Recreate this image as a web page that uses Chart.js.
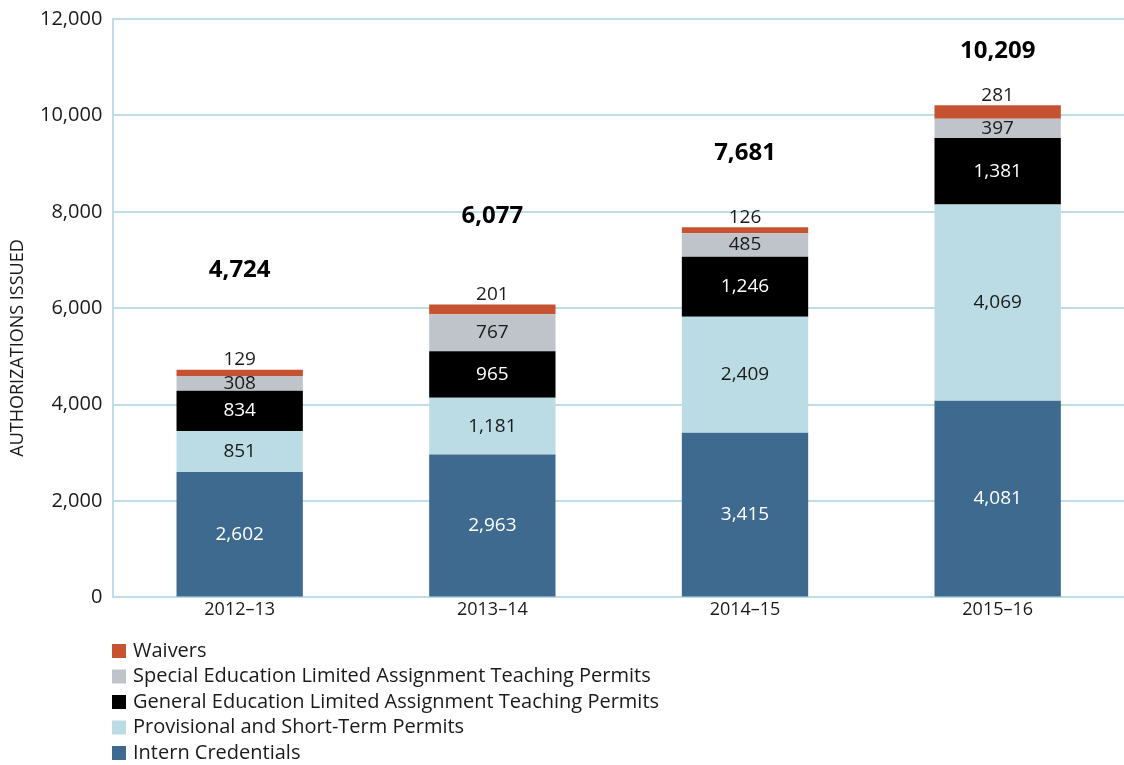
<!DOCTYPE html>
<html>
<head>
<meta charset="utf-8">
<script src="https://cdn.jsdelivr.net/npm/chart.js@4.4.1/dist/chart.umd.min.js"></script>
<style>
  html, body { margin: 0; padding: 0; background: #ffffff; overflow: hidden; }
  #wrap { position: relative; width: 1124px; height: 765px; }
</style>
</head>
<body>
<div id="wrap"><canvas id="c" width="1124" height="765"></canvas></div>
<script>
const categories = ['2012\u201313', '2013\u201314', '2014\u201315', '2015\u201316'];
const internCredentials = [2602, 2963, 3415, 4081];
const provisionalShortTerm = [851, 1181, 2409, 4069];
const generalEdLimited = [834, 965, 1246, 1381];
const specialEdLimited = [308, 767, 485, 397];
const waivers = [129, 201, 126, 281];
const totals = [4724, 6077, 7681, 10209];
const yTicks = [0, 2000, 4000, 6000, 8000, 10000, 12000];
const yAxisTitle = 'AUTHORIZATIONS ISSUED';

const FONT = "'Open Sans', 'Liberation Sans', Arial, sans-serif";
const GRID = '#BEDDE6';

const datasets = [
  { label: 'Intern Credentials', data: internCredentials, backgroundColor: '#3E6A90', labelColor: '#ffffff' },
  { label: 'Provisional and Short-Term Permits', data: provisionalShortTerm, backgroundColor: '#BBDCE4', labelColor: '#1a1a1a' },
  { label: 'General Education Limited Assignment Teaching Permits', data: generalEdLimited, backgroundColor: '#000000', labelColor: '#ffffff' },
  { label: 'Special Education Limited Assignment Teaching Permits', data: specialEdLimited, backgroundColor: '#BFC3CA', labelColor: '#1a1a1a' },
  { label: 'Waivers', data: waivers, backgroundColor: '#C55230', labelColor: '#1a1a1a', labelAbove: true }
];

const fmt = v => v.toLocaleString('en-US');

const labelPlugin = {
  id: 'segLabels',
  afterDatasetsDraw(chart, args, opts) {
    const ctx = chart.ctx;
    ctx.save();
    ctx.textAlign = 'center';
    ctx.textBaseline = 'middle';
    chart.data.datasets.forEach((ds, di) => {
      const meta = chart.getDatasetMeta(di);
      meta.data.forEach((el, i) => {
        const v = ds.data[i];
        ctx.font = '19px ' + FONT;
        ctx.fillStyle = ds.labelColor;
        let y = ds.labelAbove ? el.y - opts.aboveGap : (el.y + el.base) / 2;
        ctx.fillText(fmt(v), el.x, y);
      });
    });
    const lastMeta = chart.getDatasetMeta(chart.data.datasets.length - 1);
    lastMeta.data.forEach((el, i) => {
      ctx.font = 'bold 24px ' + FONT;
      ctx.fillStyle = '#000000';
      ctx.fillText(fmt(totals[i]), el.x, el.y - opts.totalOffsets[i]);
    });
    ctx.restore();
  }
};

const extrasPlugin = {
  id: 'extras',
  afterDraw(chart, args, opts) {
    const ctx = chart.ctx;
    ctx.save();
    ctx.font = '20px ' + FONT;
    ctx.textBaseline = 'middle';
    ctx.textAlign = 'left';
    const items = chart.data.datasets.slice().reverse();
    items.forEach((ds, k) => {
      const cy = opts.legendTop + k * opts.rowHeight;
      ctx.fillStyle = ds.backgroundColor;
      ctx.fillRect(opts.legendLeft, cy - 7, 14, 14);
      ctx.fillStyle = '#1a1a1a';
      ctx.fillText(ds.label, opts.legendLeft + 21, cy);
    });
    ctx.translate(opts.titleX, opts.titleY);
    ctx.rotate(-Math.PI / 2);
    ctx.textAlign = 'center';
    ctx.font = '18px ' + FONT;
    ctx.fillText(yAxisTitle, 0, 0);
    ctx.restore();
  }
};

new Chart(document.getElementById('c'), {
  type: 'bar',
  data: { labels: categories, datasets: datasets },
  options: {
    responsive: false,
    animation: false,
    layout: { padding: { top: 0, right: -6, bottom: 142, left: 29 } },
    datasets: { bar: { barPercentage: 0.5, categoryPercentage: 1.0, borderWidth: 0 } },
    plugins: {
      legend: { display: false },
      tooltip: { enabled: false },
      segLabels: { aboveGap: 10, totalOffsets: [100, 88, 74, 54] },
      extras: { legendLeft: 112, legendTop: 651, rowHeight: 25.5, titleX: 18, titleY: 348 }
    },
    scales: {
      x: {
        stacked: true,
        grid: { display: false, drawTicks: false },
        border: { display: true, color: GRID, width: 2 },
        ticks: { color: '#1a1a1a', font: { family: FONT, size: 18 }, padding: 2 }
      },
      y: {
        stacked: true,
        min: 0,
        max: 12000,
        afterBuildTicks: (scale) => { scale.ticks = yTicks.map(v => ({ value: v })); },
        grid: { color: GRID, lineWidth: 2, drawTicks: false },
        border: { display: true, color: GRID, width: 2 },
        ticks: { color: '#1a1a1a', font: { family: FONT, size: 20, lineHeight: 0.8 }, padding: 11, callback: v => fmt(v) }
      }
    }
  },
  plugins: [labelPlugin, extrasPlugin]
});
</script>
</body>
</html>
